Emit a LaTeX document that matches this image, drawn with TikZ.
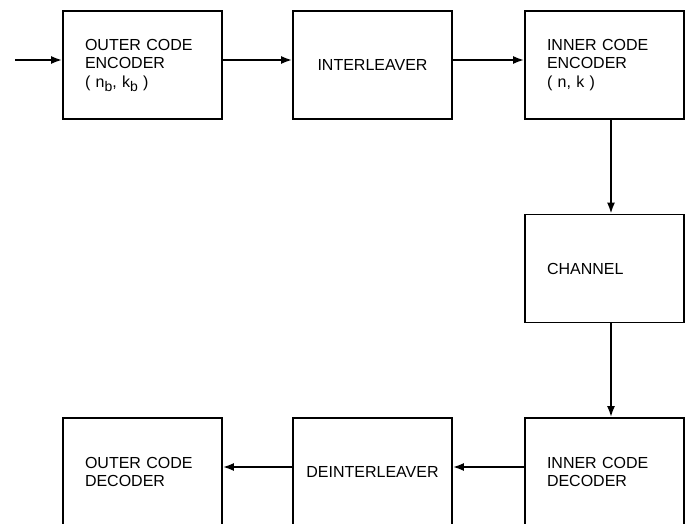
\documentclass[tikz,border=0pt]{standalone}
\usepackage{fontspec}
\setmainfont{Liberation Sans}
\usetikzlibrary{arrows.meta,positioning}
\newcommand{\lowsub}[1]{\raisebox{-4pt}{\fontsize{14}{14}\selectfont #1}}
\tikzset{
  blk/.style={draw, line width=1.8pt, minimum width=159pt, minimum height=108pt, inner sep=0pt, font=\fontsize{16}{18.5}\selectfont},
  lft/.style={blk, text width=115pt, align=left},
  arr/.style={-{Latex[length=11pt,width=8pt]}, line width=1.8pt}
}
\begin{document}
\begin{tikzpicture}[x=1pt,y=-1pt]
  \useasboundingbox (0,0) rectangle (690,524);

  % Transmitter row
  \node[lft] (oenc) at (142.5,65) {OUTER CODE\\ENCODER\\( n\lowsub{b}, k\lowsub{b} )};
  \node[blk, align=center] (inter) at (372.5,65) {INTERLEAVER};
  \node[lft] (ienc) at (604.5,65) {INNER CODE\\ENCODER\\( n, k )};

  % Channel
  \node[lft] (chan) at (604.5,268.5) {CHANNEL};

  % Receiver row
  \node[lft] (idec) at (604.5,472) {INNER CODE\\DECODER};
  \node[blk, align=center] (deint) at (372.5,472) {DEINTERLEAVER};
  \node[lft] (odec) at (142.5,472) {OUTER CODE\\DECODER};

  \coordinate (in) at (15,60);

  % Arrows
  \draw[arr] (in) -- (in -| oenc.west);
  \draw[arr] ([yshift=5]oenc.east) -- ([yshift=5]inter.west);
  \draw[arr] ([yshift=5]inter.east) -- ([yshift=5]ienc.west);
  \draw[arr] ([xshift=6.5]ienc.south) -- ([xshift=6.5]chan.north);
  \draw[arr] ([xshift=6.5]chan.south) -- ([xshift=6.5]idec.north);
  \draw[arr] ([yshift=5]idec.west) -- ([yshift=5]deint.east);
  \draw[arr] ([yshift=5]deint.west) -- ([yshift=5]odec.east);
\end{tikzpicture}
\end{document}
